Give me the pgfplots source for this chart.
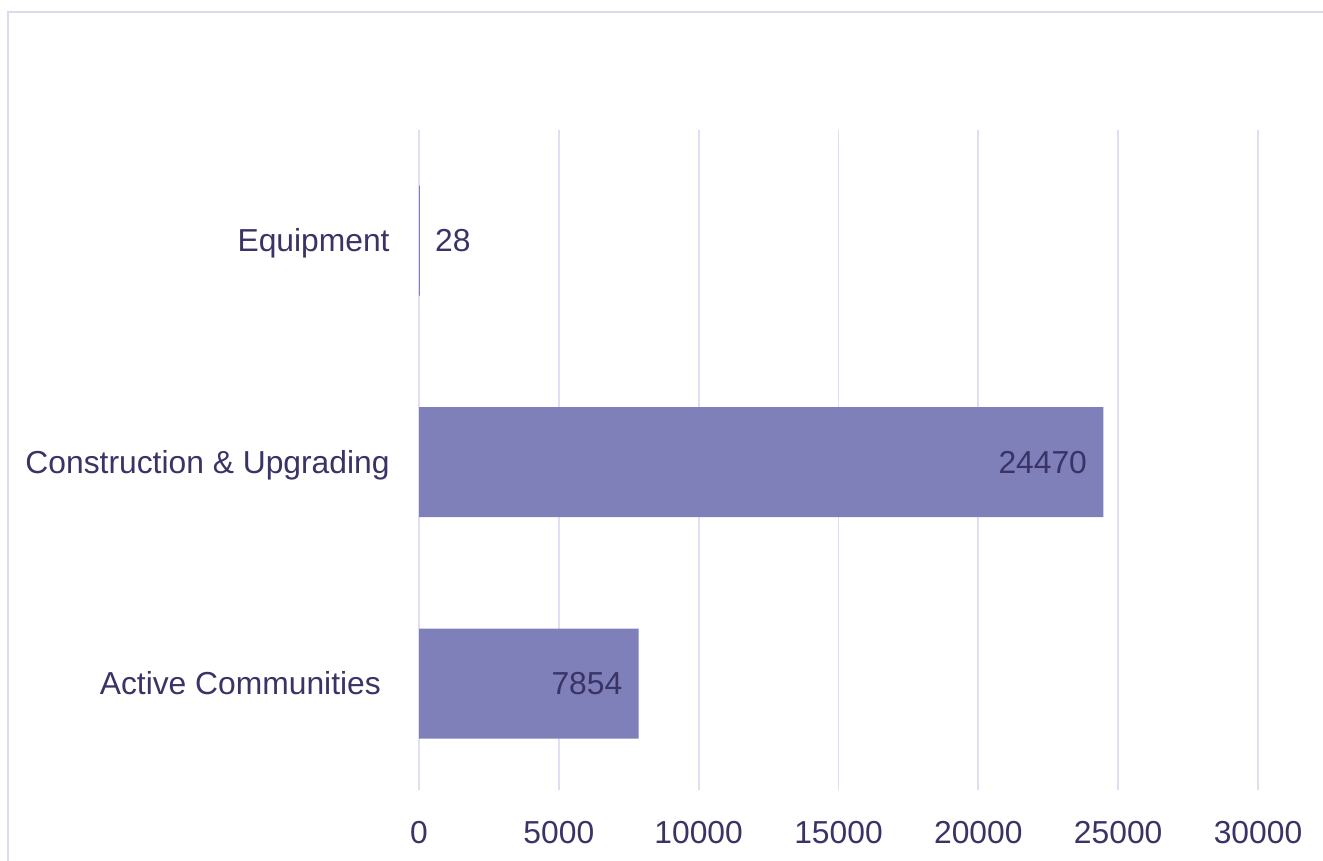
\documentclass[border=0pt]{standalone}
\usepackage{pgfplots}
\pgfplotsset{compat=1.18}
\usepackage{fontspec}
\setmainfont{Liberation Sans}
\definecolor{barc}{HTML}{7F7FB9}
\definecolor{txt}{HTML}{3A3366}
\definecolor{gridc}{HTML}{E0DEF2}
\definecolor{framec}{HTML}{DCDAF0}
\begin{document}
\begin{tikzpicture}
\useasboundingbox (0,0) rectangle (661.5pt,430.5pt);
\draw[framec, line width=1pt] (4pt,-10pt) -- (4pt,424.5pt) -- (680pt,424.5pt);
\begin{axis}[
  at={(209.5pt,35.5pt)}, anchor=south west,
  scale only axis, width=419.5pt, height=330pt,
  xmin=0, xmax=30000, ymin=-0.48, ymax=2.5,
  xtick={0,5000,10000,15000,20000,25000,30000},
  scaled x ticks=false,
  ytick={0,1,2},
  yticklabels={{Active Communities\kern4.4pt\relax}, Construction \& Upgrading, Equipment},
  axis line style={draw=none},
  major tick length=0pt,
  tick style={draw=none},
  xmajorgrids, grid style={gridc, line width=0.9pt},
  font=\fontsize{15.9}{19}\selectfont,
  every tick label/.append style={text=txt},
  /pgf/number format/assume math mode=true,
  /pgf/number format/1000 sep={},
  xticklabel style={anchor=base, inner sep=0pt, yshift=-27pt},
  yticklabel style={anchor=base east, inner sep=0pt, xshift=-14.5pt, yshift=-5.5pt},
  clip=false,
]
\addplot[xbar, bar shift=0pt, bar width=55pt, fill=barc, draw=none]
  coordinates {(7854,0) (24470,1) (28,2)};
\addplot[only marks, mark=none, point meta=x, nodes near coords,
  every node near coord/.append style={anchor=base east, inner sep=0pt, xshift=-8pt, yshift=-5.5pt, text=txt, font=\fontsize{15.9}{19}\selectfont}]
  coordinates {(7854,0) (24470,1)};
\addplot[only marks, mark=none, point meta=x, nodes near coords,
  every node near coord/.append style={anchor=base west, inner sep=0pt, xshift=7.5pt, yshift=-5.5pt, text=txt, font=\fontsize{15.9}{19}\selectfont}]
  coordinates {(28,2)};
\end{axis}
\end{tikzpicture}
\end{document}
